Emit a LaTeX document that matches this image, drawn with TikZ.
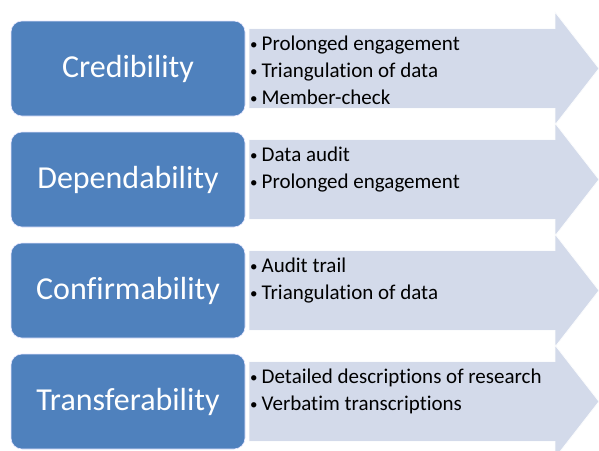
\documentclass[tikz,border=0pt]{standalone}
\usepackage{fontspec}
\setmainfont{Carlito}[Ligatures=NoCommon]
\begin{document}
\begin{tikzpicture}[x=1pt,y=-1pt,
  catbox/.style={draw=blue!10!white, line width=0.6pt, fill=catblue, rounded corners=11pt, text=white,
     minimum width=234pt, minimum height=95pt, font=\fontsize{32}{36}\selectfont, inner sep=0pt},
  arrowshape/.style={fill=arrowfill, draw=white!92!arrowfill, line width=0.8pt},
  itemtext/.style={anchor=base west, inner sep=0pt, font=\fontsize{21}{24}\selectfont, text=black}]
\definecolor{catblue}{HTML}{4F81BD}
\definecolor{arrowfill}{HTML}{D3DAEA}
\newcommand{\bul}{\makebox[11.5pt][l]{\fontsize{15}{15}\selectfont\raisebox{1pt}{\textbullet}}}
\useasboundingbox (0,0) rectangle (599,450);
\foreach \i/\name/\a/\b/\c in {0/Credibility/Prolonged engagement/Triangulation of data/Member-check,
  1/Dependability/Data audit/Prolonged engagement/,
  2/Confirmability/Audit trail/Triangulation of data/,
  3/Transferability/Detailed descriptions of research/Verbatim transcriptions/}{
  \pgfmathsetmacro{\T}{21+111*\i}
  \draw[arrowshape] (249,\T+7.5) -- (555,\T+7.5) -- (555,\T-9) -- (599,\T+47.5) -- (555,\T+104) -- (555,\T+87.5) -- (249,\T+87.5) -- cycle;
  \node[catbox] (box\i) at (128,\T+47.5) {\name};
  \node[itemtext] (a\i) at (250,\T+29) {\bul\a};
  \node[itemtext] (b\i) at (250,\T+56) {\bul\b};
  \ifx\c\empty\else
  \node[itemtext] (c\i) at (250,\T+83) {\bul\c};
  \fi
}
\end{tikzpicture}
\end{document}
